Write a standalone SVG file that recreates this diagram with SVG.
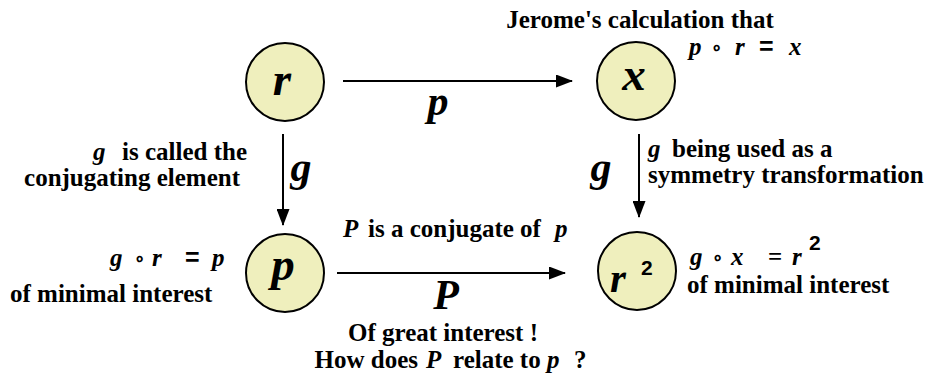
<svg xmlns="http://www.w3.org/2000/svg" width="935" height="381" viewBox="0 0 935 381">
<defs>
<marker id="ah" markerWidth="17" markerHeight="13" refX="16" refY="6.5" orient="auto" markerUnits="userSpaceOnUse">
<path d="M0,0 L17,6.5 L0,13 Z" fill="#000"/>
</marker>
<style>
.node{fill:#efefbd;stroke:#000;stroke-width:2}
.t{font-family:"Liberation Serif",serif;font-weight:bold;fill:#000}
.lbl{font-size:25px}
.big{font-size:42px;font-style:italic}
.nl{font-size:47px;font-style:italic}
.it{font-style:italic}
.sans{font-family:"Liberation Sans",sans-serif}
.con{stroke:#000;stroke-width:2;fill:none}
</style>
</defs>
<rect width="935" height="381" fill="#fff"/>
<g id="connectors">
<path class="con" d="M343,81 H572" marker-end="url(#ah)"/>
<path class="con" d="M283,134 V225" marker-end="url(#ah)"/>
<path class="con" d="M639,134 V217" marker-end="url(#ah)"/>
<path class="con" d="M337,273 H565" marker-end="url(#ah)"/>
</g>
<g id="node-r">
<circle class="node" cx="285" cy="82" r="39"/>
<text class="t nl" x="282" y="95" text-anchor="middle">r</text>
</g>
<g id="node-x">
<circle class="node" cx="636" cy="81" r="39"/>
<text class="t nl" x="634" y="90" text-anchor="middle">x</text>
</g>
<g id="node-p">
<circle class="node" cx="285" cy="273" r="39"/>
<text class="t nl" x="283" y="280" text-anchor="middle">p</text>
</g>
<g id="node-r2">
<circle class="node" cx="637" cy="271" r="39"/>
<text class="t" x="610" y="292" font-size="41px" font-style="italic">r</text>
<text class="t sans" x="641" y="275" font-size="21px">2</text>
</g>
<g id="labels">
<text class="t lbl" x="640" y="28" text-anchor="middle">Jerome's calculation that</text>
<g class="t lbl">
<text x="689" y="55" class="it">p</text>
<text x="711" y="53" font-size="18px">∘</text>
<text x="735" y="55" class="it">r</text>
<text x="759" y="55" class="sans">=</text>
<text x="789" y="55" class="it">x</text>
</g>
<text class="t big" x="438" y="115" text-anchor="middle">p</text>
<text class="t lbl it" x="93" y="160">g</text>
<text class="t lbl" x="247" y="160" text-anchor="end">is called the</text>
<text class="t lbl" x="240" y="186" text-anchor="end">conjugating element</text>
<text class="t big" x="301" y="181" text-anchor="middle">g</text>
<text class="t big" x="601" y="181" text-anchor="middle">g</text>
<text class="t lbl it" x="648" y="157">g</text>
<text class="t lbl" x="672" y="157">being used as a</text>
<text class="t lbl" x="648" y="183">symmetry transformation</text>
<text class="t lbl it" x="343" y="237">P</text>
<text class="t lbl" x="368" y="237">is a conjugate of</text>
<text class="t lbl it" x="555" y="237">p</text>
<g class="t lbl">
<text x="110" y="266" class="it">g</text>
<text x="134" y="264" font-size="18px">∘</text>
<text x="152" y="266" class="it">r</text>
<text x="185" y="266" class="sans">=</text>
<text x="212" y="266" class="it">p</text>
</g>
<text class="t lbl" x="10" y="302">of minimal interest</text>
<text class="t big" x="446" y="309" text-anchor="middle">P</text>
<text class="t lbl" x="348" y="341">Of great interest !</text>
<text class="t lbl" x="418" y="368" text-anchor="end">How does</text>
<text class="t lbl it" x="426" y="368">P</text>
<text class="t lbl" x="453" y="368">relate to</text>
<text class="t lbl it" x="547" y="368">p</text>
<text class="t lbl" x="574" y="368">?</text>
<g class="t lbl">
<text x="690" y="265" class="it">g</text>
<text x="712" y="263" font-size="18px">∘</text>
<text x="731" y="265" class="it">x</text>
<text x="768" y="265">=</text>
<text x="792" y="265" class="it">r</text>
<text x="809" y="250" class="sans" font-size="21px">2</text>
</g>
<text class="t lbl" x="687" y="293">of minimal interest</text>
</g>
</svg>
